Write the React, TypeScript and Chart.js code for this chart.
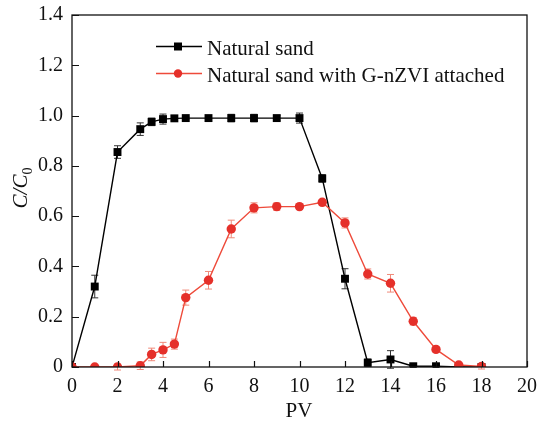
import React, { useEffect, useRef } from "react";
import { Chart, registerables } from "chart.js";

Chart.register(...registerables);

const pvValues = [0, 1, 2, 3, 3.5, 4, 4.5, 5, 6, 7, 8, 9, 10, 11, 12, 13, 14, 15, 16, 17, 18];
const naturalSand = [0, 0.32, 0.855, 0.946, 0.975, 0.986, 0.989, 0.99, 0.99, 0.99, 0.99, 0.99, 0.99, 0.75, 0.351, 0.017, 0.03, 0.003, 0.003, 0, 0];
const naturalSandErr = [0, 0.045, 0.025, 0.025, 0.015, 0.02, 0.01, 0.005, 0.005, 0.015, 0.015, 0.01, 0.02, 0.015, 0.04, 0.015, 0.035, 0.005, 0.005, 0, 0];
const gnzvSand = [0, 0, 0, 0.005, 0.05, 0.068, 0.091, 0.276, 0.345, 0.549, 0.633, 0.638, 0.638, 0.655, 0.573, 0.37, 0.333, 0.182, 0.07, 0.008, 0.002];
const gnzvSandErr = [0, 0, 0.012, 0.015, 0.025, 0.03, 0.02, 0.03, 0.035, 0.035, 0.02, 0.015, 0.01, 0.01, 0.02, 0.02, 0.035, 0.015, 0.01, 0.005, 0.01];
const xTicks = [0, 2, 4, 6, 8, 10, 12, 14, 16, 18, 20];
const yTicks = [0, 0.2, 0.4, 0.6, 0.8, 1.0, 1.2, 1.4];
const seriesLabels = ["Natural sand", "Natural sand with G-nZVI attached"];

const FONT = "'Liberation Serif', 'Times New Roman', serif";
const BLACK = "#000000";
const RED = "#e5302a";
const RED_LINE = "#ee4a3a";
const RED_ERR = "#f08a7a";

export default function App() {
  const ref = useRef<HTMLCanvasElement | null>(null);

  useEffect(() => {
    if (!ref.current) return;
    const errs = [naturalSandErr, gnzvSandErr];
    const errColors = ["#333333", RED_ERR];

    const decor = {
      id: "decor",
      beforeDatasetsDraw(chart: any) {
        const ctx = chart.ctx;
        const xs = chart.scales.x;
        const ys = chart.scales.y;
        ctx.save();
        chart.data.datasets.forEach((ds: any, di: number) => {
          ctx.strokeStyle = errColors[di];
          ctx.lineWidth = 1;
          ds.data.forEach((p: any, i: number) => {
            const e = errs[di][i];
            if (!e) return;
            const x = xs.getPixelForValue(p.x);
            const y1 = ys.getPixelForValue(p.y - e);
            const y2 = ys.getPixelForValue(p.y + e);
            ctx.beginPath();
            ctx.moveTo(x, y1);
            ctx.lineTo(x, y2);
            ctx.moveTo(x - 3.5, y1);
            ctx.lineTo(x + 3.5, y1);
            ctx.moveTo(x - 3.5, y2);
            ctx.lineTo(x + 3.5, y2);
            ctx.stroke();
          });
        });
        ctx.restore();
      },
      afterDraw(chart: any) {
        const ctx = chart.ctx;
        const a = chart.chartArea;
        const xs = chart.scales.x;
        const ys = chart.scales.y;
        ctx.save();
        ctx.strokeStyle = "#111";
        ctx.lineWidth = 1.3;
        ctx.strokeRect(a.left, a.top, a.right - a.left, a.bottom - a.top);
        ctx.lineWidth = 1.2;
        ctx.beginPath();
        xTicks.forEach((v) => {
          const x = Math.round(xs.getPixelForValue(v)) + 0.5;
          ctx.moveTo(x, a.bottom);
          ctx.lineTo(x, a.bottom - 6);
        });
        yTicks.forEach((v) => {
          const y = Math.round(ys.getPixelForValue(v)) + 0.5;
          ctx.moveTo(a.left, y);
          ctx.lineTo(a.left + 7, y);
        });
        ctx.stroke();

        // legend
        ctx.textBaseline = "alphabetic";
        ctx.textAlign = "left";
        ctx.font = `21px ${FONT}`;
        const rows = [
          { y: 46.5, color: BLACK, line: BLACK, style: "rect" },
          { y: 73.5, color: RED, line: RED_LINE, style: "circle" },
        ];
        rows.forEach((r, i) => {
          ctx.strokeStyle = r.line;
          ctx.lineWidth = 1.4;
          ctx.beginPath();
          ctx.moveTo(156, r.y);
          ctx.lineTo(202, r.y);
          ctx.stroke();
          ctx.fillStyle = r.color;
          if (r.style === "rect") {
            ctx.fillRect(174, r.y - 4, 8, 8);
          } else {
            ctx.beginPath();
            ctx.arc(178, r.y, 4.2, 0, Math.PI * 2);
            ctx.fill();
          }
          ctx.fillStyle = "#111";
          ctx.fillText(seriesLabels[i], 207, r.y + 8);
        });

        // x title
        ctx.textAlign = "center";
        ctx.font = `21px ${FONT}`;
        ctx.fillText("PV", 299, 416.5);

        // y title C/C0 (italic, subscript)
        ctx.translate(27, 188);
        ctx.rotate(-Math.PI / 2);
        ctx.font = `italic 21px ${FONT}`;
        const main = "C/C";
        const w = ctx.measureText(main).width;
        ctx.font = `14px ${FONT}`;
        const sw = ctx.measureText("0").width;
        const start = -(w + sw) / 2;
        ctx.textAlign = "left";
        ctx.font = `italic 21px ${FONT}`;
        ctx.fillText(main, start, 0);
        ctx.font = `14px ${FONT}`;
        ctx.fillText("0", start + w, 5);
        ctx.restore();
      },
    };

    const chart = new Chart(ref.current, {
      type: "scatter",
      data: {
        datasets: [
          {
            label: seriesLabels[0],
            data: pvValues.map((x, i) => ({ x, y: naturalSand[i] })),
            showLine: true,
            borderColor: BLACK,
            backgroundColor: BLACK,
            borderWidth: 1.4,
            pointStyle: "rect",
            pointRadius: 5.6,
            pointBorderWidth: 0,
            order: 2,
          },
          {
            label: seriesLabels[1],
            data: pvValues.map((x, i) => ({ x, y: gnzvSand[i] })),
            showLine: true,
            borderColor: RED_LINE,
            backgroundColor: RED,
            borderWidth: 1.4,
            pointStyle: "circle",
            pointRadius: 4.7,
            pointBorderWidth: 0,
            order: 1,
          },
        ],
      },
      options: {
        animation: false,
        responsive: false,
        layout: { padding: { top: 15, right: 10, left: 0, bottom: 0 } },
        plugins: { legend: { display: false }, tooltip: { enabled: false } },
        scales: {
          x: {
            type: "linear",
            min: 0,
            max: 20,
            afterFit: (s: any) => { s.height = 56; s.paddingLeft = 0; s.paddingRight = 0; },
            afterBuildTicks: (s: any) => { s.ticks = xTicks.map((v) => ({ value: v })); },
            grid: { display: false, drawTicks: false },
            border: { display: false },
            ticks: {
              color: "#111",
              font: { family: FONT, size: 20 },
              padding: 8,
              maxRotation: 0,
              callback: (v: any) => String(v),
            },
          },
          y: {
            type: "linear",
            min: 0,
            max: 1.4,
            afterFit: (s: any) => { s.width = 72; s.paddingTop = 0; s.paddingBottom = 0; },
            afterBuildTicks: (s: any) => { s.ticks = yTicks.map((v) => ({ value: v })); },
            grid: { display: false, drawTicks: false },
            border: { display: false },
            ticks: {
              color: "#111",
              font: { family: FONT, size: 20 },
              padding: 9,
              callback: (v: any) => (v === 0 ? "0" : Number(v).toFixed(1)),
            },
          },
        },
      },
      plugins: [decor],
    } as any);
    return () => chart.destroy();
  }, []);

  return (
    <div style={{ position: "fixed", left: 0, top: 0, width: 537, height: 423 }}>
      <canvas ref={ref} width={537} height={423} style={{ display: "block", width: 537, height: 423 }} />
    </div>
  );
}
